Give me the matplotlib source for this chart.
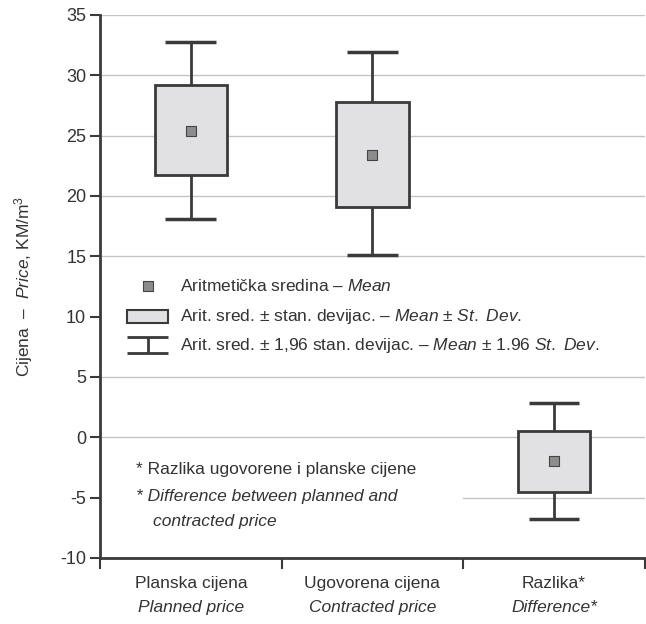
import numpy as np
import matplotlib
matplotlib.use('Agg')
import matplotlib.pyplot as plt
from matplotlib.patches import Rectangle

# podaci očitani s grafa
kategorije = ['Planska cijena', 'Ugovorena cijena', 'Razlika*']
kategorije_en = ['Planned price', 'Contracted price', 'Difference*']
sredina = [25.4, 23.4, -2.0]
sd_donja = [21.7, 19.1, -4.5]
sd_gornja = [29.2, 27.8, 0.5]
ci_donja = [18.1, 15.1, -6.8]
ci_gornja = [32.8, 31.9, 2.8]
y_ticks = [-10, -5, 0, 5, 10, 15, 20, 25, 30, 35]

plt.rcParams['font.family'] = ['Liberation Sans', 'DejaVu Sans']
plt.rcParams['mathtext.fontset'] = 'custom'
plt.rcParams['mathtext.rm'] = 'Liberation Sans'
plt.rcParams['mathtext.it'] = 'Liberation Sans:italic'
plt.rcParams['mathtext.default'] = 'regular'
plt.rcParams['axes.unicode_minus'] = False

TXT = '#333333'
LIN = '#3a3a3a'
FILL = '#e1e1e3'
MEAN = '#8c8c8c'
GRID = '#c4c4c4'
FS = 12.5

fig = plt.figure(figsize=(6.46, 6.24), dpi=100)
ax = fig.add_axes([0.155, 0.106, 0.843, 0.87])

x = np.arange(len(kategorije)) + 0.5

# mreža (10 skriva legenda, -5 napomena)
for yv in y_ticks:
    if yv == 10 or yv == -10:
        continue
    xmin = 2 / 3 if yv == -5 else 0
    ax.axhline(yv, xmin=xmin, color=GRID, lw=1.0, zorder=0)

# kutije i brkovi
ax.bar(x, np.array(sd_gornja) - np.array(sd_donja), bottom=sd_donja, width=0.4,
       color=FILL, edgecolor=LIN, linewidth=2.0, zorder=2)
ax.vlines(x, ci_donja, sd_donja, color=LIN, lw=2.0, zorder=1)
ax.vlines(x, sd_gornja, ci_gornja, color=LIN, lw=2.0, zorder=1)
ax.hlines(ci_donja, x - 0.14, x + 0.14, color=LIN, lw=2.5, zorder=1)
ax.hlines(ci_gornja, x - 0.14, x + 0.14, color=LIN, lw=2.5, zorder=1)
ax.scatter(x, sredina, marker='s', s=45, color=MEAN, edgecolor='#444444', linewidth=0.8, zorder=3)

ax.set_xlim(0, 3)
ax.set_ylim(-10, 35)
ax.set_yticks(y_ticks)
ax.set_xticks([0, 1, 2, 3])
ax.set_xticklabels([])
for s in ['top', 'right']:
    ax.spines[s].set_visible(False)
for s in ['left', 'bottom']:
    ax.spines[s].set_color(LIN)
    ax.spines[s].set_linewidth(2.0)
ax.tick_params(axis='y', direction='out', length=7, width=1.5, color=LIN,
               labelsize=13, labelcolor=TXT, pad=3)
ax.tick_params(axis='x', direction='out', length=8, width=1.5, color=LIN)

for xi, a, b in zip(x, kategorije, kategorije_en):
    ax.text(xi, -0.047, a, transform=ax.get_xaxis_transform(), ha='center', va='center',
            fontsize=FS, color=TXT)
    ax.text(xi, -0.091, b, transform=ax.get_xaxis_transform(), ha='center', va='center',
            fontsize=FS, color=TXT, style='italic')

ax.set_ylabel(r'Cijena  –  $\mathit{Price}$, KM/m$^3$', fontsize=FS, color=TXT, labelpad=18)

# legenda
lx = 0.264
ax.scatter([lx], [12.5], marker='s', s=45, color=MEAN, edgecolor='#444444', linewidth=0.8, zorder=3)
ax.add_patch(Rectangle((0.149, 9.45), 0.225, 1.1, facecolor=FILL, edgecolor=LIN, lw=1.5, zorder=3))
ax.hlines([8.3, 7.0], 0.149, 0.374, color=LIN, lw=2.0, zorder=3)
ax.vlines([lx], 7.0, 8.3, color=LIN, lw=2.0, zorder=3)
tx = 0.44
ax.text(tx, 12.5, r'Aritmetička sredina – $\mathit{Mean}$', fontsize=FS, color=TXT, va='center')
ax.text(tx, 10.0, r'Arit. sred. ± stan. devijac. – $\mathit{Mean}$ ± $\mathit{St.}$ $\mathit{Dev.}$',
        fontsize=FS, color=TXT, va='center')
ax.text(tx, 7.6, r'Arit. sred. ± 1,96 stan. devijac. – $\mathit{Mean}$ ± 1.96 $\mathit{St.}$ $\mathit{Dev.}$',
        fontsize=FS, color=TXT, va='center')

# napomena
ax.text(0.2, -2.7, '* Razlika ugovorene i planske cijene', fontsize=FS, color=TXT, va='center')
ax.text(0.2, -4.9, '* Difference between planned and', fontsize=FS, color=TXT, va='center', style='italic')
ax.text(0.29, -7.0, 'contracted price', fontsize=FS, color=TXT, va='center', style='italic')

fig.savefig('out.png', dpi=100)
